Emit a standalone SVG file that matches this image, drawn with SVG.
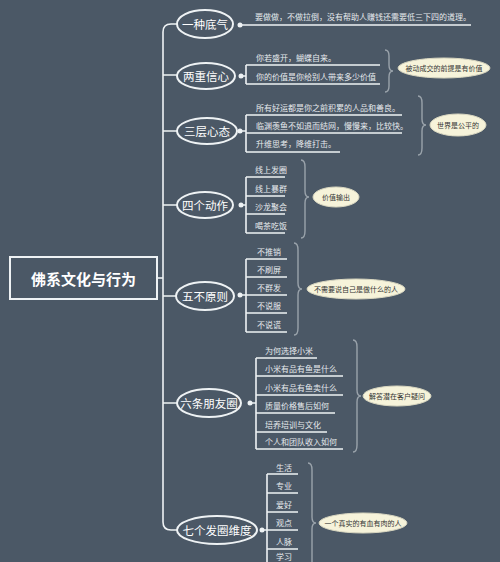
<svg xmlns="http://www.w3.org/2000/svg" width="500" height="562" viewBox="0 0 500 562">
<style>
.bg{fill:#4b5866}
.ln{stroke:#eef2f4;stroke-width:1.6;fill:none}
.node{fill:#4b5866;stroke:#eef2f4;stroke-width:2}
.nt{font-family:"Noto Sans CJK SC","Noto Sans",sans-serif;font-size:11.5px;fill:#ffffff;text-anchor:middle;dominant-baseline:central}
.ct{font-family:"Noto Sans CJK SC","Noto Sans",sans-serif;font-size:8px;fill:#e6eaed}
.brace{stroke:#9aa3ab;stroke-width:1.4;fill:none}
.bub{fill:#f6f3da;stroke:#d8d6c0;stroke-width:1}
.bt{font-family:"Noto Sans CJK SC","Noto Sans",sans-serif;font-size:7px;fill:#333333;text-anchor:middle;dominant-baseline:central}
.dot{fill:#eef2f4}
</style>
<rect class="bg" x="0" y="0" width="500" height="562"/>
<g id="connectors">
<path class="ln" d="M177,24 L171,24 Q163,24 163,32 L163,522 Q163,530 171,530 L177,530"/>
<path class="ln" d="M157,278 L163,278"/>
<path class="ln" d="M163,75 L177,75 M163,131 L177,131 M163,205 L177,205 M163,296 L177,296 M163,403 L177,403"/>
</g>
<g id="root">
<rect x="10" y="257" width="147" height="42" fill="#4b5866" stroke="#eef2f4" stroke-width="2"/>
<text x="83.5" y="278" font-family="'Noto Sans CJK SC','Noto Sans',sans-serif" font-size="15" font-weight="bold" fill="#ffffff" text-anchor="middle" dominant-baseline="central">佛系文化与行为</text>
</g>
<g id="n1">
<ellipse class="node" cx="205" cy="24" rx="28" ry="14"/>
<text class="nt" x="205" y="24">一种底气</text>
<path class="ln" d="M240,25 L471,25"/>
<circle class="dot" cx="240" cy="25" r="2.5"/>
<text class="ct" x="255" y="20">要做做，不做拉倒，没有帮助人赚钱还需要低三下四的道理。</text>
</g>
<g id="n2">
<ellipse class="node" cx="206" cy="76" rx="29" ry="13"/>
<text class="nt" x="206" y="76">两重信心</text>
<path class="ln" d="M241,76 L246,76 M246,65 L246,84 M246,65 L380,65 M246,84 L380,84"/>
<circle class="dot" cx="241" cy="76" r="2.5"/>
<text class="ct" x="256" y="61">你若盛开，蝴蝶自来。</text>
<text class="ct" x="256" y="80">你的价值是你给别人带来多少价值</text>
<path class="brace" d="M385,50 Q389,50 389,56 L389,65 Q389,71 393,71 Q389,71 389,77 L389,86 Q389,92 385,92"/>
<ellipse class="bub" cx="444" cy="68" rx="46" ry="10"/>
<text class="bt" x="444" y="68">被动成交的前提是有价值</text>
</g>
<g id="n3">
<ellipse class="node" cx="207" cy="131" rx="30" ry="13"/>
<text class="nt" x="207" y="131">三层心态</text>
<path class="ln" d="M240,131 L246,131 M246,115 L246,152 M246,115 L402,115 M246,133 L402,133 M246,152 L340,152"/>
<circle class="dot" cx="240" cy="131" r="2.5"/>
<text class="ct" x="256" y="111">所有好运都是你之前积累的人品和善良。</text>
<text class="ct" x="256" y="129">临渊羡鱼不如退而结网，慢慢来，比较快。</text>
<text class="ct" x="256" y="147">升维思考，降维打击。</text>
<path class="brace" d="M418,96 Q422,96 422,103 L422,119 Q422,125 426,125 Q422,125 422,131 L422,148 Q422,155 418,155"/>
<ellipse class="bub" cx="458" cy="125" rx="28" ry="11"/>
<text class="bt" x="458" y="125">世界是公平的</text>
</g>
<g id="n4">
<ellipse class="node" cx="205" cy="205" rx="28" ry="13"/>
<text class="nt" x="205" y="205">四个动作</text>
<path class="ln" d="M241,205 L246,205 M246,177 L246,233 M246,177 L285,177 M246,196 L285,196 M246,214 L285,214 M246,233 L285,233"/>
<circle class="dot" cx="241" cy="205" r="2.5"/>
<text class="ct" x="255" y="173">线上发圈</text>
<text class="ct" x="255" y="192">线上暴群</text>
<text class="ct" x="255" y="210">沙龙聚会</text>
<text class="ct" x="255" y="229">喝茶吃饭</text>
<path class="brace" d="M301,160 Q305,160 305,167 L305,191 Q305,197 309,197 Q305,197 305,203 L305,231 Q305,238 301,238"/>
<ellipse class="bub" cx="336" cy="197" rx="23" ry="10"/>
<text class="bt" x="336" y="197">价值输出</text>
</g>
<g id="n5">
<ellipse class="node" cx="205" cy="296" rx="29" ry="14"/>
<text class="nt" x="205" y="296">五不原则</text>
<path class="ln" d="M240,295 L246,295 M246,259 L246,332 M246,259 L287,259 M246,277 L287,277 M246,295 L287,295 M246,313 L287,313 M246,332 L287,332"/>
<circle class="dot" cx="240" cy="295" r="2.5"/>
<text class="ct" x="257" y="255">不推销</text>
<text class="ct" x="257" y="273">不刷屏</text>
<text class="ct" x="257" y="291">不群发</text>
<text class="ct" x="257" y="309">不说服</text>
<text class="ct" x="257" y="328">不说谎</text>
<path class="brace" d="M294,243 Q298,243 298,250 L298,283 Q298,289 302,289 Q298,289 298,295 L298,328 Q298,335 294,335"/>
<ellipse class="bub" cx="356" cy="289" rx="49" ry="10"/>
<text class="bt" x="356" y="289">不需要说自己是做什么的人</text>
</g>
<g id="n6">
<ellipse class="node" cx="209" cy="403" rx="32" ry="14"/>
<text class="nt" x="209" y="403">六条朋友圈</text>
<path class="ln" d="M250,403 L256,403 M256,358 L256,449 M256,358 L317,358 M256,376 L343,376 M256,395 L343,395 M256,413 L335,413 M256,432 L327,432 M256,449 L343,449"/>
<circle class="dot" cx="250" cy="403" r="2.5"/>
<text class="ct" x="265" y="354">为何选择小米</text>
<text class="ct" x="265" y="372">小米有品有鱼是什么</text>
<text class="ct" x="265" y="391">小米有品有鱼卖什么</text>
<text class="ct" x="265" y="409">质量价格售后如何</text>
<text class="ct" x="265" y="428">培养培训与文化</text>
<text class="ct" x="265" y="445">个人和团队收入如何</text>
<path class="brace" d="M353,340 Q357,340 357,347 L357,390 Q357,396 361,396 Q357,396 357,402 L357,445 Q357,452 353,452"/>
<ellipse class="bub" cx="397" cy="396" rx="34" ry="10"/>
<text class="bt" x="397" y="396">解答潜在客户疑问</text>
</g>
<g id="n7">
<ellipse class="node" cx="217" cy="530" rx="40" ry="14"/>
<text class="nt" x="217" y="530">七个发圈维度</text>
<path class="ln" d="M262,530 L267,530 M267,474 L267,570 M267,474 L298,474 M267,493 L298,493 M267,512 L298,512 M267,530 L298,530 M267,549 L298,549"/>
<circle class="dot" cx="262" cy="530" r="2.5"/>
<text class="ct" x="276" y="471">生活</text>
<text class="ct" x="276" y="489">专业</text>
<text class="ct" x="276" y="508">爱好</text>
<text class="ct" x="276" y="526">观点</text>
<text class="ct" x="276" y="545">人脉</text>
<text class="ct" x="276" y="560">学习</text>
<path class="brace" d="M308,463 Q312,463 312,470 L312,517 Q312,523 316,523 Q312,523 312,529 L312,580"/>
<ellipse class="bub" cx="363" cy="523" rx="44" ry="10"/>
<text class="bt" x="363" y="523">一个真实的有血有肉的人</text>
</g>
</svg>
